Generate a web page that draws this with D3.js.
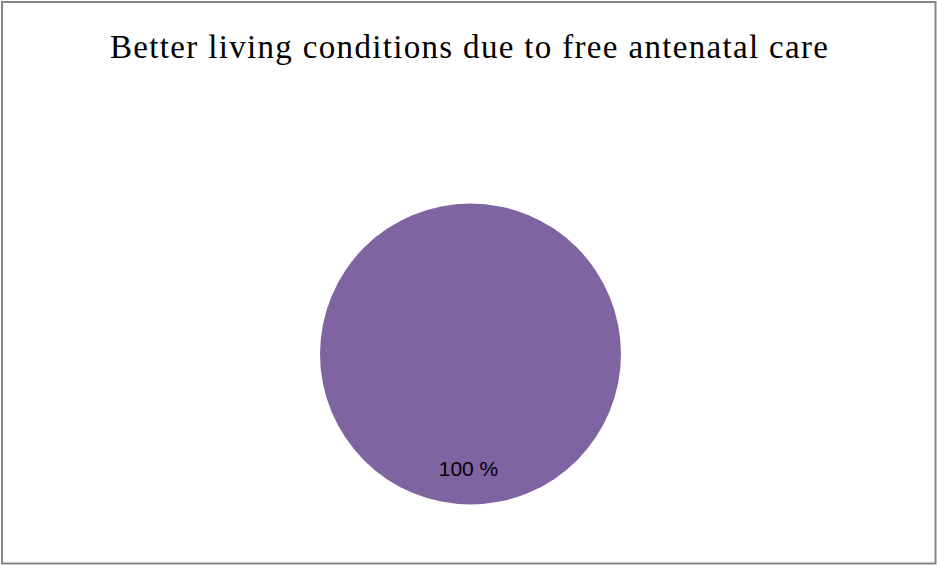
<!DOCTYPE html>
<html>
<head>
<meta charset="utf-8">
<script src="https://cdn.jsdelivr.net/npm/d3@7"></script>
<style>
  body { margin: 0; background: #fff; }
  svg { display: block; }
</style>
</head>
<body>
<div id="chart"></div>
<script>
// chart data
const categories = ["Yes"];
const values = [100];
const colors = ["#8064a2"];
const chartTitle = "Better living conditions due to free antenatal care";

let W = 937, H = 565;
let cx = 470.5, cy = 354, radius = 150.5;

let svg = d3.select("#chart").append("svg")
  .attr("width", W).attr("height", H);

// outer frame
svg.append("rect")
  .attr("x", 2).attr("y", 2)
  .attr("width", W - 3.5).attr("height", H - 3.5)
  .attr("fill", "#fff")
  .attr("stroke", "#868686")
  .attr("stroke-width", 2);

// title is wider in the original font, so stretch the spacing to fit
svg.append("text")
  .attr("x", 110).attr("y", 58)
  .attr("textLength", 718)
  .attr("lengthAdjust", "spacing")
  .style("font-family", "'Liberation Serif', 'DejaVu Serif', serif")
  .style("font-size", "33px")
  .attr("fill", "#000")
  .text(chartTitle);

let pie = d3.pie().sort(null).value(d => d.value);
let arc = d3.arc().innerRadius(0).outerRadius(radius);

let total = d3.sum(values);
let slices = pie(categories.map((c, i) => ({ name: c, value: values[i] })));

let g = svg.append("g").attr("transform", "translate(" + cx + "," + cy + ")");

g.selectAll("path").data(slices).enter().append("path")
  .attr("d", arc)
  .attr("fill", (d, i) => colors[i]);

// label sits low in the slice, like the original
g.selectAll("text.lbl").data(slices).enter().append("text")
  .attr("class", "lbl")
  .attr("x", -2)
  .attr("y", 122)
  .attr("text-anchor", "middle")
  .style("font-family", "'Liberation Sans', Arial, sans-serif")
  .style("font-size", "21px")
  .attr("fill", "#000")
  .text(d => Math.round(d.value / total * 100) + " %");
</script>
</body>
</html>
